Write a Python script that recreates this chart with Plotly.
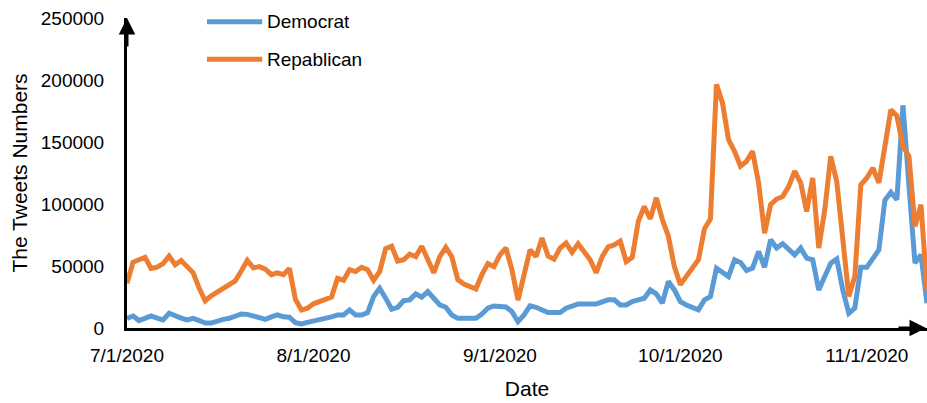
import pandas as pd
import plotly.graph_objects as go

# Daily tweet counts, 7/1/2020 - 11/11/2020
dates = pd.date_range("2020-07-01", "2020-11-11", freq="D").strftime("%Y-%m-%d").tolist()

democrat = [
    7800, 9700, 6000, 8000, 9700, 8000, 6500, 11900, 9500, 8000,
    6500, 7800, 6000, 4000, 4000, 6000, 7000, 7800, 9500, 11300,
    11000, 10000, 8500, 7000, 9000, 10500, 9000, 8700, 4300, 3200,
    4500, 5500, 6500, 7000, 9000, 10500, 10500, 14600, 10500, 10500,
    12400, 25300, 32000, 24000, 15100, 16700, 22000, 22700, 27500, 24800,
    29400, 24000, 18600, 16700, 10500, 7800, 7800, 7800, 7800, 11300,
    16000, 17800, 17800, 17000, 13200, 5100, 10500, 17800, 16700, 14000,
    12400, 12400, 12400, 16000, 18000, 19400, 19400, 19400, 19400, 21000,
    22700, 22700, 18600, 18600, 21300, 22700, 24000, 30700, 27500, 20000,
    37500, 30700, 21300, 18600, 16700, 14600, 22700, 25300, 48300, 45000,
    41500, 55000, 52800, 46400, 48300, 61700, 49000, 71200, 64500, 68000,
    63000, 59000, 64500, 56400, 55000, 30700, 41500, 52300, 55600, 30700,
    11900, 16000, 49000, 49000, 56000, 63000, 103000, 109500, 103500, 179600,
    115000, 52300, 59000, 20000,
]

republican = [
    36000, 53000, 55000, 57000, 48000, 49000, 52000, 58000, 51000, 54500,
    49500, 44500, 32000, 22000, 26000, 29000, 31000, 34000, 38000, 46000,
    54500, 48500, 49500, 47500, 43000, 44500, 43000, 48000, 23000, 14500,
    16000, 19500, 21500, 23000, 25000, 40000, 38500, 47000, 45500, 49000,
    47000, 38500, 45500, 64000, 66000, 54000, 55000, 59500, 57500, 66000,
    54000, 44500, 57500, 65000, 57500, 39000, 35500, 33500, 31500, 43000,
    52000, 49500, 59000, 64500, 47000, 22500, 41500, 63000, 57500, 72500,
    58000, 55500, 64500, 68500, 61000, 68000, 61500, 55000, 44500, 57500,
    65500, 67000, 70000, 53500, 57000, 86000, 98000, 88000, 105000, 87500,
    74000, 49500, 35000, 41500, 47500, 55000, 80000, 88000, 196500, 181500,
    152000, 142500, 130500, 134500, 142500, 117000, 76500, 99500, 104000, 106000,
    114000, 126500, 117000, 94000, 121000, 64500, 95000, 138500, 118000, 75000,
    25500, 41500, 115500, 121000, 129000, 117000, 145000, 176000, 171000, 146500,
    138500, 82000, 99500, 30500,
]

series_names = ["Democrat", "Repablican"]
series_colors = ["#5B9BD5", "#ED7D31"]

x_tickvals = ["2020-07-01", "2020-08-01", "2020-09-01", "2020-10-01", "2020-11-01"]
x_ticktext = ["7/1/2020", "8/1/2020", "9/1/2020", "10/1/2020", "11/1/2020"]
y_tickvals = [0, 50000, 100000, 150000, 200000, 250000]
y_ticktext = ["0", "50000", "100000", "150000", "200000", "250000"]

FONT = "Liberation Sans, Arial, sans-serif"

fig = go.Figure()
fig.add_trace(go.Scatter(x=dates, y=democrat, mode="lines", name=series_names[0],
                         line=dict(color=series_colors[0], width=5)))
fig.add_trace(go.Scatter(x=dates, y=republican, mode="lines", name=series_names[1],
                         line=dict(color=series_colors[1], width=5)))

# Legend: swatch lines and labels in the upper-left of the plot
legend_rows = [0.988, 0.867]
for name, color, yy in zip(series_names, series_colors, legend_rows):
    fig.add_shape(type="line", xref="paper", yref="paper",
                  x0=0.1, x1=0.169, y0=yy, y1=yy,
                  line=dict(color=color, width=5))
    fig.add_annotation(xref="paper", yref="paper", x=0.173, y=yy,
                       text=name, showarrow=False, xanchor="left", yanchor="middle",
                       font=dict(family=FONT, size=19, color="#000000"))

# Arrowheads at the ends of both axes
fig.add_annotation(xref="paper", yref="paper", x=0, y=1.0, ax=0, ay=30,
                   text="", showarrow=True, arrowhead=2, arrowsize=1.1,
                   arrowwidth=3, arrowcolor="#000000")
fig.add_annotation(xref="paper", yref="paper", x=1.0, y=0, ax=-30, ay=0,
                   text="", showarrow=True, arrowhead=2, arrowsize=1.1,
                   arrowwidth=3, arrowcolor="#000000")

fig.update_layout(
    width=927, height=403,
    margin=dict(l=127, r=0, t=18, b=75),
    paper_bgcolor="white", plot_bgcolor="white",
    showlegend=False,
    font=dict(family=FONT, size=19, color="#000000"),
)
fig.update_xaxes(
    type="date", range=["2020-07-01", "2020-11-11"],
    tickvals=x_tickvals, ticktext=x_ticktext,
    showgrid=False, zeroline=False,
    showline=True, linecolor="#000000", linewidth=3,
    ticks="", ticklabelstandoff=8,
    tickfont=dict(family=FONT, size=19, color="#000000"),
    title=dict(text="Date", font=dict(family=FONT, size=21, color="#000000"), standoff=17),
    automargin=False,
)
fig.update_yaxes(
    range=[0, 250000], tickvals=y_tickvals, ticktext=y_ticktext,
    showgrid=False, zeroline=False,
    showline=True, linecolor="#000000", linewidth=3,
    ticks="", ticklabelstandoff=16,
    tickfont=dict(family=FONT, size=19, color="#000000"),
    title=dict(text="The Tweets Numbers", font=dict(family=FONT, size=21, color="#000000"), standoff=8),
    automargin=False,
)

fig.write_html("out.html")
